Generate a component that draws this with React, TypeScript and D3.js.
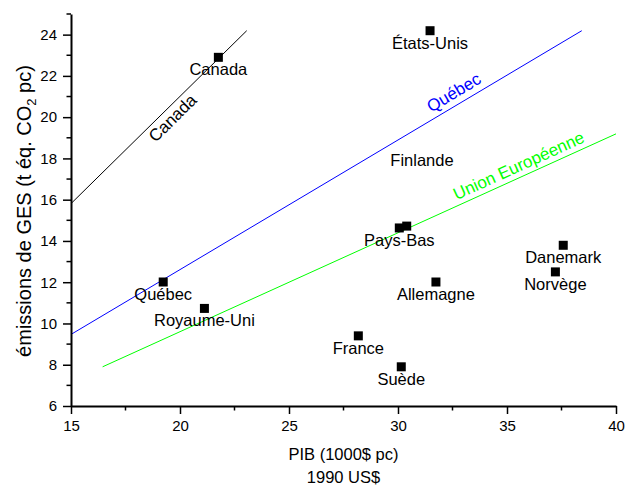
import React, { useRef, useEffect } from 'react'
import * as d3 from 'd3'

// country points (PIB 1000$ pc, émissions t éq. CO2 pc)
const countries = [
	'Canada',
	'États-Unis',
	'Finlande',
	'Pays-Bas',
	'',
	'Québec',
	'Royaume-Uni',
	'Danemark',
	'Norvège',
	'Allemagne',
	'France',
	'Suède',
]
const pib = [21.76, 31.47, 31.1, 30.06, 30.4, 19.23, 21.12, 37.58, 37.22, 31.74, 28.18, 30.15]
const ges = [22.9, 24.19, 18.5, 14.63, 14.72, 12.01, 10.73, 13.79, 12.5, 12.01, 9.4, 7.9]
// Finlande has a label but no marker in the original
const showMarker = [true, true, false, true, true, true, true, true, true, true, true, true]

// trend lines: two end points each
const lineNames = ['Canada', 'Québec', 'Union Européenne']
const lineColors = ['#000000', '#0000ff', '#00ff00']
const lineX = [
	[15, 23.06],
	[15, 38.43],
	[16.45, 40],
]
const lineY = [
	[15.81, 24.19],
	[9.47, 24.19],
	[7.9, 19.19],
]
// where the rotated name sits along the line (x value) and its offset
const labelAtX = [19.33, 32.85, 35.75]
const labelDy = [16, -6.5, -5.5]

const xTicks = [15, 20, 25, 30, 35, 40]
const xMinor = [17.5, 22.5, 27.5, 32.5, 37.5]
const yTicks = [6, 8, 10, 12, 14, 16, 18, 20, 22, 24]
const yMinor = [7, 9, 11, 13, 15, 17, 19, 21, 23, 25]

const font = "'Liberation Sans', Arial, sans-serif"

const App = () => {
	const svgRef = useRef(null)

	useEffect(() => {
		const root = d3.select(svgRef.current)
		root.selectAll('*').remove()

		const width = 626,
			height = 487
		const margin = { top: 14, right: 10, bottom: 81, left: 71 }

		root.attr('width', width).attr('height', height)

		const x = d3
			.scaleLinear()
			.domain([15, 40])
			.range([margin.left, width - margin.right])
		const y = d3
			.scaleLinear()
			.domain([6, 25])
			.range([height - margin.bottom, margin.top])

		// trend lines
		lineNames.forEach((name, i) => {
			root.append('line')
				.attr('x1', x(lineX[i][0]))
				.attr('y1', y(lineY[i][0]))
				.attr('x2', x(lineX[i][1]))
				.attr('y2', y(lineY[i][1]))
				.attr('stroke', lineColors[i])
				.attr('stroke-width', 1)

			const slope = (lineY[i][1] - lineY[i][0]) / (lineX[i][1] - lineX[i][0])
			const lx = labelAtX[i]
			const ly = lineY[i][0] + (lx - lineX[i][0]) * slope
			const angle =
				(Math.atan2(
					y(lineY[i][1]) - y(lineY[i][0]),
					x(lineX[i][1]) - x(lineX[i][0])
				) *
					180) /
				Math.PI
			root.append('text')
				.attr('transform', `translate(${x(lx)},${y(ly)}) rotate(${angle})`)
				.attr('dy', labelDy[i])
				.attr('text-anchor', 'middle')
				.style('font-family', font)
				.style('font-size', '17px')
				.style('fill', lineColors[i])
				.text(name)
		})

		// axes
		const xAxis = root
			.append('g')
			.attr('transform', `translate(0,${height - margin.bottom})`)
			.call(
				d3
					.axisBottom(x)
					.tickValues(xTicks)
					.tickSize(8)
					.tickSizeOuter(0)
					.tickPadding(6)
			)
		xAxis.select('.domain').attr('stroke-width', 2)
		xAxis.selectAll('.tick line').attr('stroke-width', 1.5)
		xAxis.selectAll('text').style('font-family', font).style('font-size', '15px')
		xAxis
			.selectAll('.minor')
			.data(xMinor)
			.join('line')
			.attr('x1', (d) => x(d))
			.attr('x2', (d) => x(d))
			.attr('y1', 0)
			.attr('y2', 4.5)
			.attr('stroke', 'black')
			.attr('stroke-width', 1.5)

		const yAxis = root
			.append('g')
			.attr('transform', `translate(${margin.left},0)`)
			.call(
				d3
					.axisLeft(y)
					.tickValues(yTicks)
					.tickSize(8)
					.tickSizeOuter(0)
					.tickPadding(6)
			)
		yAxis.select('.domain').attr('stroke-width', 2)
		yAxis.selectAll('.tick line').attr('stroke-width', 1.5)
		yAxis.selectAll('text').style('font-family', font).style('font-size', '15px')
		yAxis
			.selectAll('.minor')
			.data(yMinor)
			.join('line')
			.attr('x1', 0)
			.attr('x2', -4.5)
			.attr('y1', (d) => y(d))
			.attr('y2', (d) => y(d))
			.attr('stroke', 'black')
			.attr('stroke-width', 1.5)

		// points and their names
		const idx = d3.range(countries.length)
		root.selectAll('.pt')
			.data(idx.filter((i) => showMarker[i]))
			.join('rect')
			.attr('x', (i) => x(pib[i]) - 4.5)
			.attr('y', (i) => y(ges[i]) - 4.5)
			.attr('width', 9)
			.attr('height', 9)
			.attr('fill', 'black')

		root.selectAll('.lbl')
			.data(idx.filter((i) => countries[i] !== ''))
			.join('text')
			.attr('x', (i) => x(pib[i]))
			.attr('y', (i) => y(ges[i]) + 18)
			.attr('text-anchor', 'middle')
			.style('font-family', font)
			.style('font-size', '16.5px')
			.style('fill', 'black')
			.text((i) => countries[i])

		// axis titles
		const xTitle = root
			.append('text')
			.attr('x', (margin.left + width - margin.right) / 2)
			.attr('y', 460)
			.attr('text-anchor', 'middle')
			.style('font-family', font)
			.style('font-size', '16.5px')
		xTitle.append('tspan').text('PIB (1000$ pc)')
		xTitle
			.append('tspan')
			.attr('x', (margin.left + width - margin.right) / 2)
			.attr('dy', 23)
			.text('1990 US$')

		const yTitle = root
			.append('text')
			.attr('transform', `translate(31,211) rotate(-90)`)
			.attr('text-anchor', 'middle')
			.style('font-family', font)
			.style('font-size', '20px')
		yTitle.append('tspan').text('émissions de GES (t éq. CO')
		yTitle.append('tspan').attr('dy', 5).style('font-size', '13px').text('2')
		yTitle.append('tspan').attr('dy', -5).text(' pc)')
	}, [])

	return (
		<svg
			ref={svgRef}
			style={{ position: 'absolute', left: 0, top: 0, background: 'white' }}
		></svg>
	)
}

export default App
